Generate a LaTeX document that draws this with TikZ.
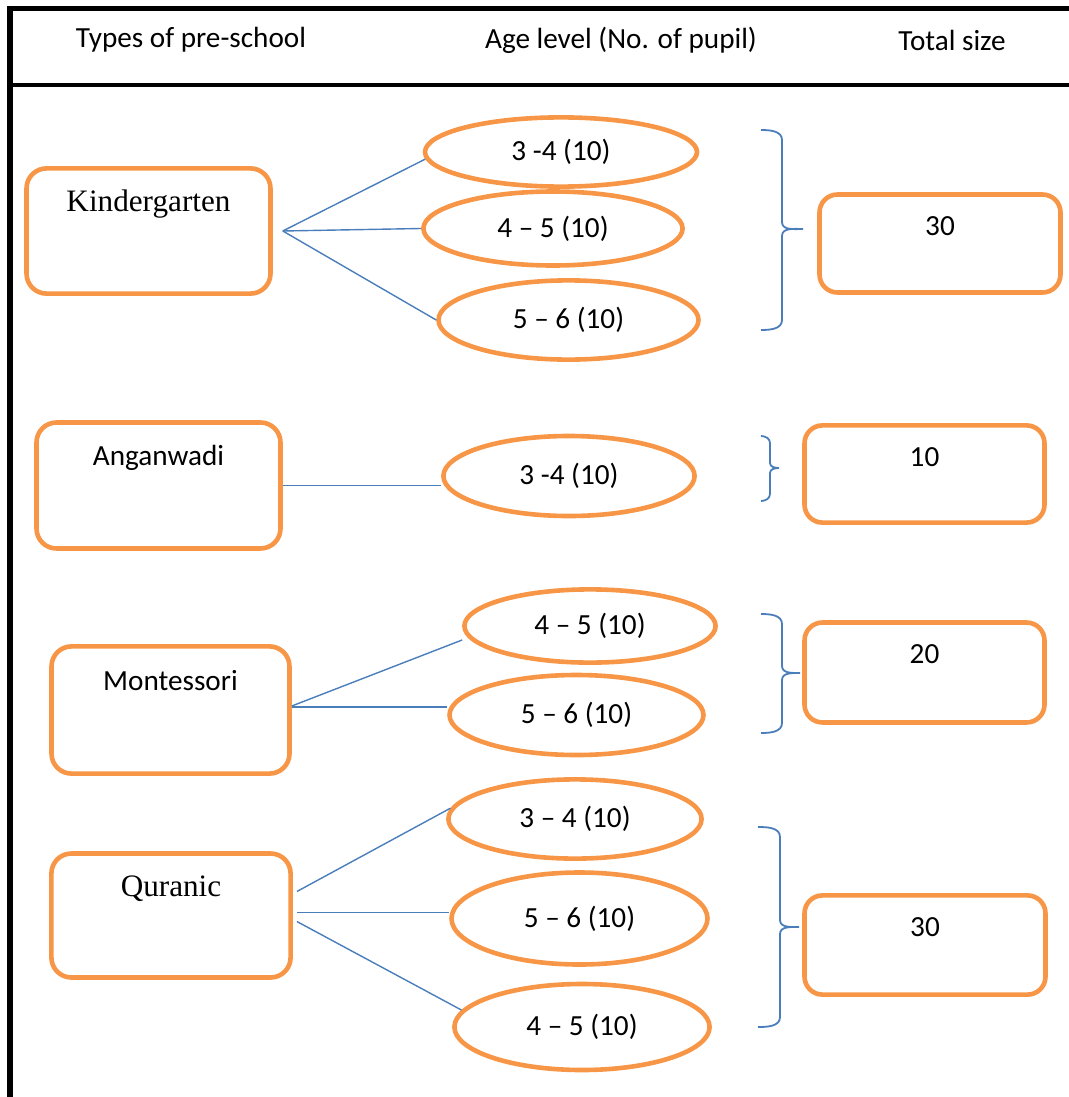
\documentclass[tikz,border=0pt]{standalone}
\usepackage{fontspec}
\setmainfont{Carlito}
\newfontfamily\serifface{Liberation Serif}
\usetikzlibrary{shapes.geometric}
\definecolor{boxorange}{HTML}{F79646}
\definecolor{linkblue}{HTML}{4A7EBB}

\begin{document}
\begin{tikzpicture}[
    x=0.5pt, y=-0.5pt,
    every node/.style={font=\fontsize{14.6pt}{17pt}\selectfont},
    typebox/.style={draw=boxorange, line width=2.3pt, rounded corners=10pt, minimum width=122pt, minimum height=62.6pt},
    totalbox/.style={draw=boxorange, line width=2.3pt, rounded corners=9pt, minimum width=120.5pt, minimum height=49pt},
    agering/.style={draw=boxorange, line width=2.3pt, ellipse, inner sep=0pt},
    typetext/.style={anchor=center, yshift=-18.8pt},
    sumtext/.style={anchor=center, yshift=-17pt},
    serifname/.style={font=\serifface\fontsize{15.6pt}{18pt}\selectfont},
    link/.style={draw=linkblue, line width=0.7pt},
    bracket/.style={draw=linkblue, line width=0.9pt},
    rule/.style={draw=black, line width=2.5pt}
]
\useasboundingbox (0,0) rectangle (1069,1097);

% table frame
\draw[rule] (7,8.5) -- (1069,8.5);
\draw[rule, line width=2pt] (10,85.5) -- (1069,85.5);
\draw[rule, line width=3pt] (10,6) -- (10,1097);

% headings
\node (typehead) at (191,40) {Types of pre-school};
\node (agehead) at (621,40) {Age level (No. of pupil)};
\node (totalhead) at (952,40) {Total size};

% types of pre-school
\node[typebox, label={[typetext, serifname]north:Kindergarten}] (kinder) at (148.5,231) {};
\node[typebox, minimum height=63pt, label={[typetext]north:Anganwadi}] (angan) at (158.5,485.5) {};
\node[typebox, minimum width=119pt, minimum height=63.6pt, label={[typetext, yshift=0.8pt]north:Montessori}] (mont) at (170.5,710) {};
\node[typebox, minimum width=119.6pt, minimum height=62pt, label={[typetext, serifname]north:Quranic}] (quran) at (171,915.5) {};

% age levels
\node[agering, minimum width=136pt, minimum height=34.6pt] (kinderA) at (561,152) {3 -4 (10)};
\node[agering, minimum width=129.6pt, minimum height=37pt] (kinderB) at (553,228.5) {4 -- 5 (10)};
\node[agering, minimum width=130pt, minimum height=39.6pt] (kinderC) at (568.5,320) {5 -- 6 (10)};
\node[agering, minimum width=125.6pt, minimum height=40pt] (anganA) at (569,476) {3 -4 (10)};
\node[agering, minimum width=125.6pt, minimum height=36.6pt] (montA) at (590,626) {4 -- 5 (10)};
\node[agering, minimum width=127pt, minimum height=40pt] (montB) at (576.5,715) {5 -- 6 (10)};
\node[agering, minimum width=126.6pt, minimum height=39.6pt] (quranA) at (575,819) {3 -- 4 (10)};
\node[agering, minimum width=128pt, minimum height=46pt] (quranB) at (579.5,918.5) {5 -- 6 (10)};
\node[agering, minimum width=127.6pt, minimum height=43pt] (quranC) at (582,1027) {4 -- 5 (10)};

% total sizes
\node[totalbox, label={[sumtext]north:30}] (kinderT) at (940,243.5) {};
\node[totalbox, minimum width=120pt, minimum height=48.6pt, label={[sumtext]north:10}] (anganT) at (924.5,474) {};
\node[totalbox, minimum width=120pt, minimum height=50pt, label={[sumtext]north:20}] (montT) at (924.5,672.5) {};
\node[totalbox, minimum height=49.6pt, label={[sumtext]north:30}] (quranT) at (925,945) {};

% links
\draw[link] ([xshift=5pt]kinder.east) -- (kinderA.183);
\draw[link] ([xshift=5pt]kinder.east) -- (kinderB.west);
\draw[link] ([xshift=5pt]kinder.east) -- (kinderC.west);
\draw[link] (angan.east) -- (angan.east -| anganA.west);
\draw[link] ([yshift=2pt]mont.east) -- ([yshift=-7pt]montA.west);
\draw[link] ([yshift=1.5pt]mont.east) -- ([yshift=1.5pt]mont.east -| montB.west);
\draw[link] ([shift={(2pt,12pt)}]quran.east) -- (quranA.175);
\draw[link] ([shift={(2pt,1.5pt)}]quran.east) -- ([yshift=3pt]quranB.west);
\draw[link] ([shift={(2pt,-3pt)}]quran.east) -- (quranC.172);

% braces
\draw[bracket] (761,130) to[out=0,in=90] (782,140) -- (782,222) to[out=-90,in=180] (803,229)
    to[out=180,in=90] (782,236) -- (782,320) to[out=-90,in=0] (761,330);
\draw[bracket] (761,436) to[out=0,in=90] (770,443) -- (770,463) to[out=-90,in=180] (779,468)
    to[out=180,in=90] (770,473) -- (770,494) to[out=-90,in=0] (761,501);
\draw[bracket] (761,614) to[out=0,in=90] (782,624) -- (782,666) to[out=-90,in=180] (800,673)
    to[out=180,in=90] (782,680) -- (782,723) to[out=-90,in=0] (761,733);
\draw[bracket] (758,827) to[out=0,in=90] (780,837) -- (780,920) to[out=-90,in=180] (799,927)
    to[out=180,in=90] (780,934) -- (780,1017) to[out=-90,in=0] (758,1027);
\end{tikzpicture}
\end{document}
